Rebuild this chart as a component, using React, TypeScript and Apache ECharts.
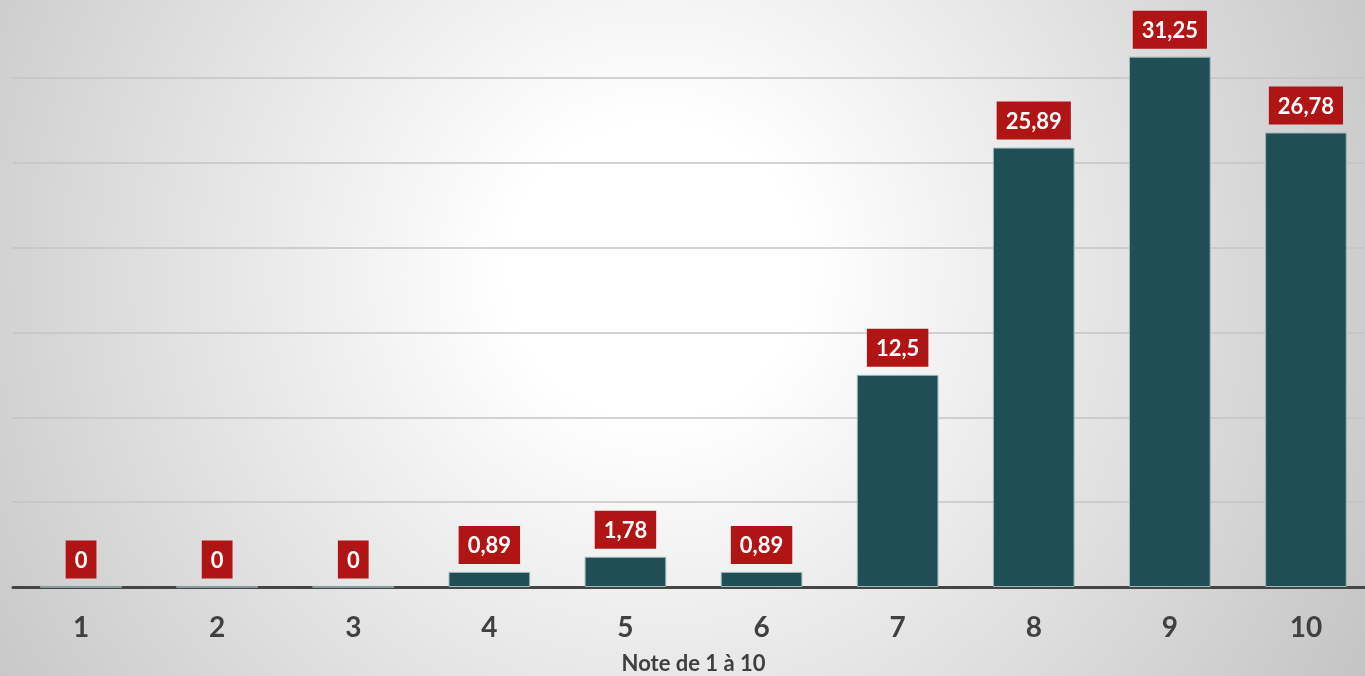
import React, { useEffect, useRef } from "react";
import * as echarts from "echarts";

const categories = ["1", "2", "3", "4", "5", "6", "7", "8", "9", "10"];
const values = [0, 0, 0, 0.89, 1.78, 0.89, 12.5, 25.89, 31.25, 26.78];
const axisName = "Note de 1 à 10";

export default function App() {
  const ref = useRef<HTMLDivElement>(null);
  useEffect(() => {
    if (!ref.current) return;
    const chart = echarts.init(ref.current, undefined, { renderer: "svg" });
    const font = "Lato, 'Noto Sans', sans-serif";
    chart.setOption({
      animation: false,
      backgroundColor: "transparent",
      grid: {
        left: 13,
        right: -9,
        top: -7,
        bottom: 89,
        containLabel: false,
        outerBoundsMode: "none",
      },
      xAxis: {
        type: "category",
        data: categories,
        axisLine: { show: true, lineStyle: { color: "#454545", width: 3 } },
        axisTick: { show: false },
        axisLabel: {
          color: "#404040",
          fontSize: 28,
          fontWeight: "bold",
          fontFamily: font,
          margin: 25,
        },
        name: axisName,
        nameLocation: "middle",
        nameGap: 64,
        nameTextStyle: {
          color: "#404040",
          fontSize: 22,
          fontWeight: "bold",
          fontFamily: font,
          lineHeight: 22,
        },
      },
      yAxis: {
        type: "value",
        min: 0,
        max: 35,
        interval: 5,
        axisLabel: { show: false },
        axisLine: { show: false },
        axisTick: { show: false },
        splitLine: { show: true, lineStyle: { color: "#c4c4c4", width: 1.5 } },
      },
      series: [
        {
          type: "bar",
          data: values,
          barCategoryGap: "40%",
          itemStyle: { color: "#1f4f55", borderColor: "#9fb8ba", borderWidth: 1 },
          label: {
            show: true,
            position: "top",
            distance: 8,
            formatter: (p: any) => String(p.value).replace(".", ","),
            color: "#ffffff",
            fontSize: 22,
            fontWeight: "bold",
            fontFamily: font,
            backgroundColor: "#b01414",
            padding: [8, 9, 8, 9],
            lineHeight: 22,
          },
        },
      ],
    });
    return () => chart.dispose();
  }, []);
  return (
    <div
      ref={ref}
      style={{
        position: "fixed",
        left: 0,
        top: 0,
        width: 1365,
        height: 676,
        background:
          "radial-gradient(circle farthest-corner at 48% 40%, #ffffff 0%, #ffffff 18%, #c4c4c4 100%)",
      }}
    />
  );
}
